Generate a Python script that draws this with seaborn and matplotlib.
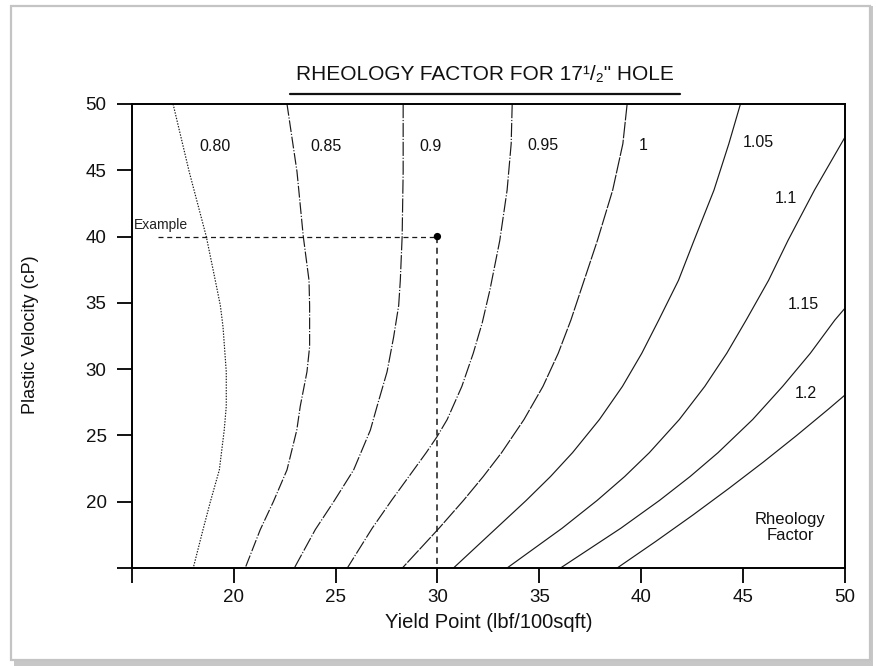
import matplotlib
matplotlib.use("Agg")
import matplotlib.pyplot as plt
import seaborn as sns
from matplotlib.patches import Rectangle
from matplotlib.lines import Line2D

# Rheology factor curves: yield point (x) against plastic viscosity (y)
rf_080_yp = [17.03, 17.82, 18.66, 19.10, 19.35, 19.48, 19.64, 19.64, 19.54, 19.30, 18.86, 18.50, 18.02]
rf_080_pv = [50.0, 44.9, 40.0, 36.7, 34.8, 33.2, 29.8, 27.2, 25.4, 22.4, 20.0, 17.9, 15.0]

rf_085_yp = [22.62, 23.11, 23.42, 23.70, 23.73, 23.73, 23.60, 23.27, 23.10, 22.62, 21.95, 21.31, 20.57]
rf_085_pv = [50.0, 44.9, 40.0, 36.7, 34.8, 31.7, 29.8, 27.2, 25.4, 22.4, 20.0, 17.9, 15.0]

rf_090_yp = [28.32, 28.32, 28.27, 28.18, 28.10, 27.85, 27.53, 27.04, 26.71, 25.89, 24.91, 24.01, 22.98]
rf_090_pv = [50.0, 44.9, 40.0, 36.7, 34.8, 32.4, 29.8, 27.2, 25.4, 22.4, 20.0, 17.9, 15.0]

rf_095_yp = [33.67, 33.62, 33.42, 33.06, 32.58, 32.20, 31.76, 31.20, 30.48, 29.98, 29.45, 28.60, 27.75, 26.80, 25.58]
rf_095_pv = [50.0, 47.0, 43.5, 39.7, 36.0, 33.5, 31.2, 28.7, 26.2, 24.9, 23.7, 21.9, 20.1, 18.0, 15.0]

rf_100_yp = [39.31, 39.10, 38.60, 37.85, 37.20, 36.55, 35.93, 35.18, 34.25, 33.15, 32.25, 31.28, 30.08, 28.28]
rf_100_pv = [50.0, 47.0, 43.5, 39.7, 36.7, 33.7, 31.2, 28.7, 26.2, 23.7, 21.9, 20.1, 18.0, 15.0]

rf_105_yp = [44.87, 44.30, 43.57, 42.59, 41.83, 40.86, 40.03, 39.08, 37.95, 36.63, 35.55, 34.36, 32.89, 30.79]
rf_105_pv = [50.0, 47.0, 43.5, 39.7, 36.7, 33.7, 31.2, 28.7, 26.2, 23.7, 21.9, 20.1, 18.0, 15.0]

rf_110_yp = [50.00, 48.50, 47.20, 46.25, 45.15, 44.20, 43.12, 41.87, 40.40, 39.19, 37.84, 36.12, 33.42]
rf_110_pv = [47.5, 43.5, 39.7, 36.7, 33.7, 31.2, 28.7, 26.2, 23.7, 21.9, 20.1, 18.0, 15.0]

rf_115_yp = [50.00, 49.50, 48.30, 46.94, 45.47, 43.77, 42.40, 40.90, 39.00, 36.04]
rf_115_pv = [34.6, 33.7, 31.2, 28.7, 26.2, 23.7, 21.9, 20.1, 18.0, 15.0]

rf_120_yp = [50.00, 49.20, 47.63, 46.00, 44.30, 42.54, 40.71, 38.82]
rf_120_pv = [28.05, 27.0, 25.0, 23.0, 21.0, 19.0, 17.0, 15.0]

curve_names = ["0.80", "0.85", "0.9", "0.95", "1", "1.05", "1.1", "1.15", "1.2"]
curve_yp = [rf_080_yp, rf_085_yp, rf_090_yp, rf_095_yp, rf_100_yp,
            rf_105_yp, rf_110_yp, rf_115_yp, rf_120_yp]
curve_pv = [rf_080_pv, rf_085_pv, rf_090_pv, rf_095_pv, rf_100_pv,
            rf_105_pv, rf_110_pv, rf_115_pv, rf_120_pv]

# Label positions for each curve
label_yp = [19.1, 24.55, 29.65, 35.2, 40.1, 45.73, 47.1, 47.94, 48.08]
label_pv = [46.8, 46.8, 46.8, 46.9, 46.9, 47.1, 42.9, 34.85, 28.2]

# Worked example
example_yp = [30.0]
example_pv = [40.0]
example_start_yp = 16.3

x_ticks = [15, 20, 25, 30, 35, 40, 45, 50]
x_tick_labels = ["", "20", "25", "30", "35", "40", "45", "50"]
y_ticks = [15, 20, 25, 30, 35, 40, 45, 50]
y_tick_labels = ["", "20", "25", "30", "35", "40", "45", "50"]

sns.set_theme(style="ticks")
plt.rcParams["font.family"] = ["Liberation Sans", "DejaVu Sans"]

W, H = 876, 666
fig = plt.figure(figsize=(W / 100, H / 100), dpi=100)
fig.patch.set_facecolor("white")

# Page frame with a soft drop shadow
fig.add_artist(Rectangle((14 / W, 1 - 666 / H), 859 / W, 660 / H, transform=fig.transFigure,
                         facecolor="#9a9a9a", edgecolor="none", alpha=0.55, zorder=-3))
fig.add_artist(Rectangle((11 / W, 1 - 660 / H), 859 / W, 654 / H, transform=fig.transFigure,
                         facecolor="white", edgecolor="#c4c4c4", lw=1.6, zorder=-2))

ax = fig.add_axes([131.7 / W, 1 - 568 / H, 713.3 / W, 464 / H])
ax.set_facecolor("white")

line_styles = [(0, (1.2, 1.2)), (0, (10, 1.5, 1, 1.5)), (0, (12, 1.5, 1, 1.5)),
               (0, (12, 1.5, 1, 1.5)), (0, (14, 1.2)), "-", "-", "-", "-"]
for xs, ys, ls in zip(curve_yp, curve_pv, line_styles):
    sns.lineplot(x=xs, y=ys, sort=False, estimator=None, ax=ax,
                 color="#1a1a1a", lw=0.85, linestyle=ls)

for name, lx, ly in zip(curve_names, label_yp, label_pv):
    ax.text(lx, ly, name, ha="center", va="center", fontsize=11.5, color="#111111")

# Example read-off lines and point
sns.lineplot(x=[example_start_yp, example_yp[0]], y=[example_pv[0], example_pv[0]],
             ax=ax, color="#1a1a1a", lw=0.9, linestyle=(0, (4, 3)), sort=False, estimator=None)
sns.lineplot(x=[example_yp[0], example_yp[0]], y=[example_pv[0], 15.0],
             ax=ax, color="#1a1a1a", lw=1.1, linestyle=(0, (4, 3)), sort=False, estimator=None)
sns.scatterplot(x=example_yp, y=example_pv, ax=ax, color="black", s=28, zorder=5, edgecolor="none")
ax.text(15.1, 40.35, "Example", ha="left", va="bottom", fontsize=10, color="#222222")

ax.text(47.3, 18.63, "Rheology", ha="center", va="center", fontsize=12, color="#111111")
ax.text(47.3, 17.42, "Factor", ha="center", va="center", fontsize=12, color="#111111")

ax.set_xlim(15, 50)
ax.set_ylim(15, 50)
ax.set_xticks(x_ticks)
ax.set_xticklabels(x_tick_labels)
ax.set_yticks(y_ticks)
ax.set_yticklabels(y_tick_labels)
ax.tick_params(axis="both", direction="out", length=11, width=1.3, color="black",
               labelsize=13.5, labelcolor="#111111")
ax.tick_params(axis="y", pad=7)
ax.tick_params(axis="x", pad=4)

for side in ["left", "right", "top", "bottom"]:
    ax.spines[side].set_color("black")
    ax.spines[side].set_linewidth(1.4)

ax.set_xlabel("Yield Point (lbf/100sqft)", fontsize=14.5, color="#111111")
ax.set_ylabel("Plastic Velocity (cP)", fontsize=13, color="#111111")
ax.xaxis.set_label_coords(0.5, -0.097)
ax.yaxis.set_label_coords(-0.13, 0.502)

# Underlined chart title
fig.text(485 / W, 1 - 74 / H, "RHEOLOGY FACTOR FOR 17\u00b9/\u2082\" HOLE", ha="center",
         va="center", fontsize=15, color="#111111")
fig.add_artist(Line2D([290 / W, 680 / W], [1 - 94 / H, 1 - 94 / H], transform=fig.transFigure,
                      color="#111111", lw=1.6))

fig.savefig("out.png", dpi=100)
